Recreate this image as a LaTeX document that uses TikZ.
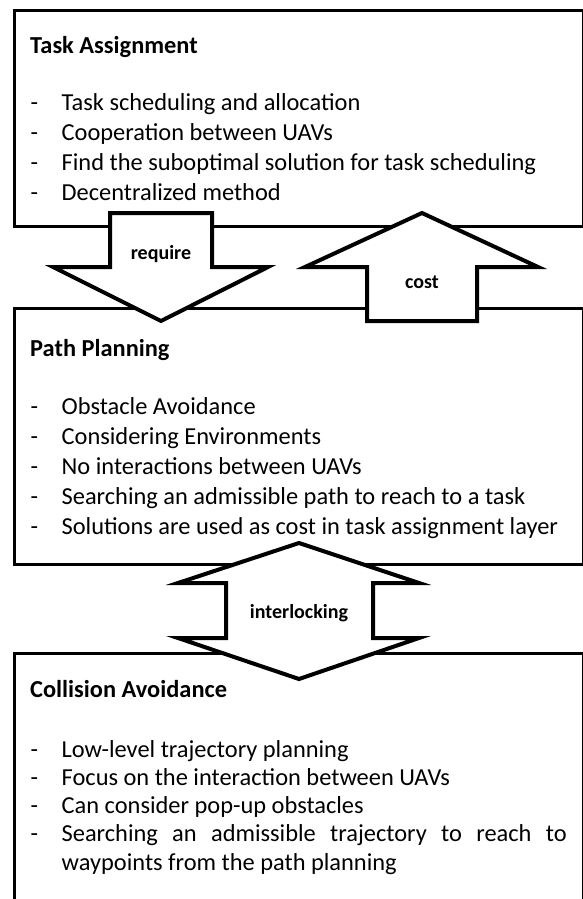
\documentclass[tikz,border=0pt]{standalone}
\usepackage{fontspec}
\setmainfont{Carlito}
\tikzstyle{layer} = [draw, line width=3.3pt, anchor=north west, minimum width=569pt, inner sep=0pt]
\tikzstyle{blockarrow} = [draw, fill=white, line width=4pt, line join=miter, miter limit=20]
\newcommand{\layeritem}[1]{\hangindent=31pt\hangafter=1\noindent\makebox[31pt][l]{-}#1\par}
\newcommand{\layerlist}[1]{\parbox[t]{536pt}{\hyphenpenalty=10000\relax\exhyphenpenalty=10000\relax#1}}

\begin{document}
\begin{tikzpicture}[x=1pt, y=-1pt,
    head/.style={anchor=base west, inner sep=0pt, font=\fontsize{24.4}{29}\selectfont\bfseries},
    items/.style={anchor=base west, inner sep=0pt, font=\fontsize{24.4}{#1}\selectfont},
    tag/.style={anchor=base, inner sep=0pt, font=\fontsize{20}{24}\selectfont\bfseries}]
    \path[clip, use as bounding box] (0,0) rectangle (583,899);
    % create the layers
    \node[layer, minimum height=216pt] (task) at (13,9) {};
    \node[layer, minimum height=256pt] (plan) at (13,307) {};
    \node[layer, minimum height=300pt] (coll) at (13,652) {};
    \node[head] (taskhead) at (30,54) {Task Assignment};
    \node[items=30pt] (tasklist) at (30.5,110) {\layerlist{%
        \layeritem{Task scheduling and allocation}
        \layeritem{Cooperation between UAVs}
        \layeritem{Find the suboptimal solution for task scheduling}
        \layeritem{Decentralized method}}};
    \node[head] (planhead) at (30,356) {Path Planning};
    \node[items=30pt] (planlist) at (30.5,414) {\layerlist{%
        \layeritem{Obstacle Avoidance}
        \layeritem{Considering Environments}
        \layeritem{No interactions between UAVs}
        \layeritem{Searching an admissible path to reach to a task}
        \layeritem{Solutions are used as cost in task assignment layer}}};
    \node[head] (collhead) at (30,697) {Collision Avoidance};
    \node[items=28.3pt] (colllist) at (30.5,757) {\layerlist{%
        \layeritem{Low-level trajectory planning}
        \layeritem{Focus on the interaction between UAVs}
        \layeritem{Can consider pop-up obstacles}
        \layeritem{Searching an admissible trajectory to reach to\linebreak waypoints from the path planning}}};
    % connect the layers
    \draw[blockarrow] (110,213) -- (212,213) -- (212,267) -- (268,267) -- (161,321) -- (53,267) -- (110,267) -- cycle;
    \node[tag] (require) at (161,259) {require};
    \draw[blockarrow] (422,213) -- (538,267) -- (477,267) -- (477,321) -- (367,321) -- (367,267) -- (305,267) -- cycle;
    \node[tag] (cost) at (422,288) {cost};
    \draw[blockarrow] (299,543) -- (419,583) -- (373,583) -- (373,638) -- (419,638) -- (299,679)
        -- (178,638) -- (226,638) -- (226,583) -- (178,583) -- cycle;
    \node[tag] (interlock) at (299,618) {interlocking};
\end{tikzpicture}
\end{document}
